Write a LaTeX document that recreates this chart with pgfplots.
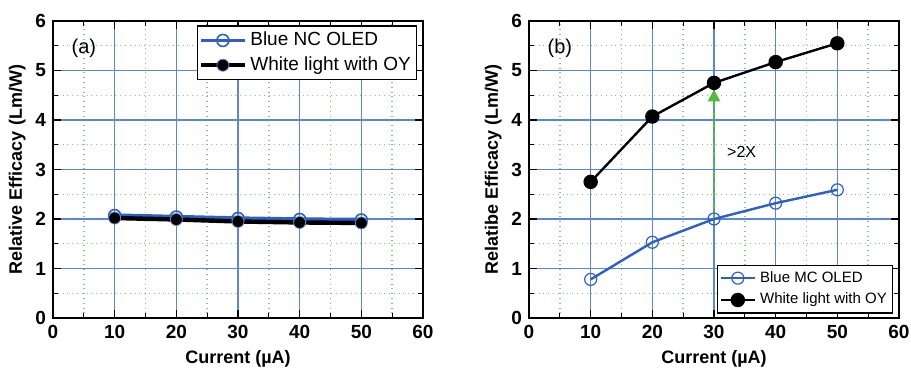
\documentclass[border=0pt]{standalone}
\usepackage{pgfplots}
\pgfplotsset{compat=1.18}
\usepackage{fontspec}
\setmainfont{Liberation Sans}
\usetikzlibrary{arrows.meta}
\definecolor{lblue}{RGB}{45,95,200}
\definecolor{gblue}{RGB}{90,135,215}
\definecolor{ggreen}{RGB}{120,205,120}
\definecolor{agreen}{RGB}{80,190,60}
\pgfplotsset{
  myaxis/.style={
    scale only axis, width=185pt, height=148.5pt,
    xmin=0, xmax=60, ymin=0, ymax=6,
    xtick={0,10,...,60}, ytick={0,1,...,6},
    minor x tick num=1, minor y tick num=1,
    grid=both,
    major grid style={gblue, line width=0.8pt},
    minor grid style={ggreen, dotted, line width=0.7pt},
    axis line style={black, line width=0.8pt},
    tick style={black, line width=0.6pt},
    major tick length=4pt, minor tick length=2.5pt,
    tick align=inside,
    ticklabel style={font=\bfseries\fontsize{9.5}{10}\selectfont},
    /pgf/number format/assume math mode=true,
    xlabel={\bfseries Current (µA)},
    label style={font=\bfseries\fontsize{9}{10}\selectfont},
    xlabel style={yshift=1pt},
    legend cell align=left,
    legend style={draw=black, line width=0.6pt, fill=white, inner sep=1pt},
  }
}
\begin{document}
\begin{tikzpicture}
\useasboundingbox (-26.5pt,-27pt) rectangle (429pt,159pt);
\begin{axis}[myaxis,
  ylabel={\bfseries Relative Efficacy (Lm/W)},
  ylabel style={yshift=-2pt},
  legend style={at={(0.985,0.985)}, anchor=north east, font=\fontsize{9.5}{11.5}\selectfont},
  legend image code/.code={\draw[mark repeat=2,mark phase=2,#1] plot coordinates {(0cm,0cm) (0.38cm,0cm) (0.76cm,0cm)};},
  legend image post style={line width=1.8pt},
]
\addplot[lblue, line width=2.2pt, mark=o, mark size=3pt, mark options={fill=white, line width=0.8pt}]
  coordinates {(10,2.07) (20,2.04) (30,2.01) (40,1.99) (50,1.98)};
\addlegendentry{Blue NC OLED}
\addplot[black, line width=2.2pt, mark=*, mark size=3pt, mark options={fill=black, draw=gblue, line width=0.4pt}]
  coordinates {(10,2.02) (20,1.99) (30,1.95) (40,1.93) (50,1.92)};
\addlegendentry{White light with OY}
\node at (axis cs:5,5.45) {\fontsize{10}{12}\selectfont (a)};
\end{axis}
\begin{axis}[myaxis, xshift=238pt,
  ylabel={\bfseries Relatibe Efficacy (Lm/W)},
  ylabel style={yshift=-2pt},
  legend style={at={(0.985,0.015)}, anchor=south east, font=\fontsize{7.5}{8.5}\selectfont},
]
\addplot[lblue, line width=1.2pt, mark=o, mark size=3pt, mark options={fill=white, line width=0.6pt}]
  coordinates {(10,0.78) (20,1.53) (30,2.0) (40,2.32) (50,2.59)};
\addlegendentry{Blue MC OLED}
\addplot[black, line width=1.2pt, mark=*, mark size=3pt, mark options={fill=black}]
  coordinates {(10,2.75) (20,4.07) (30,4.75) (40,5.17) (50,5.55)};
\addlegendentry{White light with OY}
\draw[agreen, densely dashed, line width=1pt, -{Triangle[length=6pt,width=6pt]}] (axis cs:30,2.03) -- (axis cs:30,4.62);
\node[anchor=west] at (axis cs:31,3.35) {\fontsize{8}{10}\selectfont >2X};
\node at (axis cs:5,5.45) {\fontsize{10}{12}\selectfont (b)};
\end{axis}
\end{tikzpicture}
\end{document}
